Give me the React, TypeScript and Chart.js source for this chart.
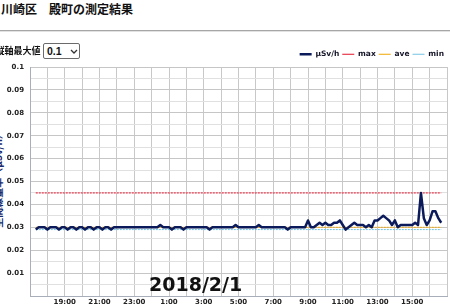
import React, { useEffect, useRef } from 'react';
import { Chart, registerables } from 'chart.js';

Chart.register(...registerables);

// ---- data ----
const TITLE = '川崎区　殿町の測定結果';
const AXIS_MAX_LABEL = '縦軸最大値';
const AXIS_MAX_VALUE = '0.1';
const DATE_LABEL = '2018/2/1';
const Y_TITLE = '空間線量率（μSv/h）';

// x axis: hours counted from 17:00 (0) to 17:00 next day (24)
const hourLabels = [
  '17:00', '18:00', '19:00', '20:00', '21:00', '22:00', '23:00', '0:00', '1:00', '2:00',
  '3:00', '4:00', '5:00', '6:00', '7:00', '8:00', '9:00', '10:00', '11:00', '12:00',
  '13:00', '14:00', '15:00', '16:00', '17:00',
];
const firstSampleHour = 1 / 3; // 17:20
const sampleStepHour = 1 / 6; // every 10 minutes

// μSv/h, 10‑minute values from 17:20 to 16:40
const doseRate = [
  0.029, 0.030, 0.030, 0.030, 0.029, 0.030,
  0.030, 0.030, 0.029, 0.030, 0.030, 0.029,
  0.030, 0.030, 0.029, 0.030, 0.030, 0.029,
  0.030, 0.030, 0.029, 0.030, 0.030, 0.029,
  0.030, 0.030, 0.029, 0.030, 0.030, 0.030,
  0.030, 0.030, 0.030, 0.030, 0.030, 0.030,
  0.030, 0.030, 0.030, 0.030, 0.030, 0.030,
  0.030, 0.031, 0.030, 0.030, 0.030, 0.029,
  0.030, 0.030, 0.030, 0.029, 0.030, 0.030,
  0.030, 0.030, 0.030, 0.030, 0.030, 0.030,
  0.029, 0.030, 0.030, 0.030, 0.030, 0.030,
  0.030, 0.030, 0.030, 0.031, 0.030, 0.030,
  0.030, 0.030, 0.030, 0.030, 0.030, 0.031,
  0.030, 0.030, 0.030, 0.030, 0.030, 0.030,
  0.030, 0.030, 0.030, 0.029, 0.030, 0.030,
  0.030, 0.030, 0.030, 0.030, 0.033, 0.030,
  0.030, 0.031, 0.032, 0.031, 0.032, 0.031,
  0.031, 0.032, 0.032, 0.033, 0.031, 0.029,
  0.030, 0.031, 0.032, 0.031, 0.031, 0.031,
  0.030, 0.031, 0.030, 0.033, 0.033, 0.034,
  0.035, 0.034, 0.033, 0.031, 0.033, 0.030,
  0.031, 0.031, 0.031, 0.031, 0.031, 0.032,
  0.031, 0.045, 0.034, 0.031, 0.033, 0.037,
  0.037, 0.034, 0.032,
];
const maxValue = 0.045;
const aveValue = 0.030;
const minValue = 0.029;

const seriesNames = ['μSv/h', 'max', 'ave', 'min'];
const seriesColors = ['#0b1a5a', '#e3122b', '#f0a500', '#74c3e2'];

const yMax = 0.1;
const yStep = 0.005;

const legendFit = {
  id: 'legendFit',
  beforeInit(chart: any) {
    const lg = chart.legend;
    if (!lg) return;
    const orig = lg.fit;
    lg.fit = function () {
      orig.call(this);
      this.height = 19.5;
    };
  },
};

function ChartBox() {
  const ref = useRef<HTMLCanvasElement | null>(null);
  useEffect(() => {
    if (!ref.current) return;
    const hourAt = (i: number) => firstSampleHour + i * sampleStepHour;
    const pts = doseRate.map((v, i) => ({ x: hourAt(i), y: v }));
    const x0 = hourAt(0);
    const x1 = hourAt(doseRate.length - 1);
    const flat = (v: number) => [{ x: x0, y: v }, { x: x1, y: v }];
    const tickFont = { family: 'DejaVu Sans', size: 7, weight: 'bold' as const };

    const chart = new Chart(ref.current, {
      type: 'line',
      data: {
        datasets: [
          { label: seriesNames[0], data: pts, borderColor: seriesColors[0], backgroundColor: seriesColors[0], borderWidth: 2.5, pointRadius: 0, tension: 0, borderJoinStyle: 'round' },
          { label: seriesNames[1], data: flat(maxValue), borderColor: seriesColors[1], backgroundColor: seriesColors[1], borderWidth: 1, borderDash: [2, 1], pointRadius: 0 },
          { label: seriesNames[2], data: flat(aveValue), borderColor: seriesColors[2], backgroundColor: seriesColors[2], borderWidth: 1, borderDash: [2, 1], pointRadius: 0 },
          { label: seriesNames[3], data: flat(minValue), borderColor: seriesColors[3], backgroundColor: seriesColors[3], borderWidth: 1, borderDash: [2, 1], pointRadius: 0 },
        ],
      },
      options: {
        responsive: false,
        animation: false,
        layout: { padding: { top: 5.5, right: 3, left: 0, bottom: 0 } },
        plugins: {
          tooltip: { enabled: false },
          legend: {
            position: 'top',
            align: 'end',
            labels: {
              usePointStyle: true,
              pointStyle: 'line',
              pointStyleWidth: 12,
              boxWidth: 12,
              padding: 3,
              color: '#141428',
              font: { family: 'DejaVu Sans', size: 7.5, weight: 'bold' },
            },
          },
        },
        scales: {
          x: {
            type: 'linear',
            min: 0,
            max: 24,
            afterFit: (s: any) => { s.height = 12; },
            ticks: {
              stepSize: 1,
              autoSkip: false,
              maxRotation: 0,
              padding: 2,
              color: '#222',
              font: tickFont,
              callback: (value: any) => {
                const v = Math.round(Number(value));
                return v % 2 === 0 && v > 0 && v < 24 ? hourLabels[v] : '';
              },
            },
            grid: { color: '#c8c8c8', drawTicks: false, lineWidth: 1 },
            border: { color: '#a9aebb', width: 1 },
          },
          y: {
            min: 0,
            max: yMax,
            afterFit: (s: any) => { s.width = 30; },
            ticks: {
              stepSize: yStep,
              autoSkip: false,
              padding: 6,
              color: '#222',
              font: tickFont,
              callback: (value: any) => {
                const k = Math.round(Number(value) * 1000);
                if (k === 0 || k % 10 !== 0) return '';
                return String(k / 1000);
              },
            },
            grid: {
              drawTicks: false,
              lineWidth: 1,
              color: (ctx: any) => {
                const k = Math.round(Number(ctx.tick && ctx.tick.value) * 1000);
                return k % 10 === 0 ? '#c6c6c6' : '#e0e0e0';
              },
            },
            border: { color: '#a9aebb', width: 1 },
          },
        },
      },
      plugins: [legendFit],
    } as any);
    return () => chart.destroy();
  }, []);
  return (
    <canvas
      ref={ref}
      width={450}
      height={266}
      style={{ position: 'absolute', left: 0, top: 42, width: 450, height: 266, zIndex: 1 }}
    />
  );
}

export default function App() {
  return (
    <div
      style={{
        position: 'fixed', left: 0, top: 0, width: 450, height: 308,
        overflow: 'hidden', background: '#fff',
      }}
    >
      <div
        style={{
          position: 'absolute', left: 1, top: 3, fontFamily: '"Noto Sans CJK JP"',
          fontSize: 12, lineHeight: '12px', fontWeight: 700, color: '#111', whiteSpace: 'nowrap',
        }}
      >
        {TITLE}
      </div>
      <div style={{ position: 'absolute', left: 0, top: 30, width: 450, height: 0, borderTop: '1px solid #a6a6a6', borderBottom: '1px solid #e2e2e2' }} />
      <div
        style={{
          position: 'absolute', left: -4.5, top: 46, fontFamily: '"Noto Sans CJK JP"',
          fontSize: 9, lineHeight: '9px', fontWeight: 700, color: '#111', whiteSpace: 'nowrap', zIndex: 2,
        }}
      >
        {AXIS_MAX_LABEL}
      </div>
      <div
        style={{
          position: 'absolute', left: 43, top: 43, width: 37, height: 16, boxSizing: 'border-box',
          border: '1px solid #6b6b6b', borderRadius: 2, background: '#fff', zIndex: 2,
        }}
      >
        <span
          style={{
            position: 'absolute', left: 3, top: 2, fontFamily: '"Liberation Sans"', fontSize: 10.5,
            lineHeight: '11px', fontWeight: 700, color: '#111',
          }}
        >
          {AXIS_MAX_VALUE}
        </span>
        <svg width="8" height="6" style={{ position: 'absolute', left: 26, top: 5 }}>
          <polyline points="1,1 4,4 7,1" fill="none" stroke="#333" strokeWidth="1.3" />
        </svg>
      </div>
      <div
        style={{
          position: 'absolute', left: -150, top: 0, width: 150, height: 11, textAlign: 'center',
          transform: 'translate(72.5px, 173px) rotate(-90deg)', transformOrigin: '75px 5.5px',
          fontFamily: '"Noto Sans CJK JP"',
          fontSize: 10, lineHeight: '11px', fontWeight: 700, color: '#1a2a6c', whiteSpace: 'nowrap', zIndex: 0,
        }}
      >
        {Y_TITLE}
      </div>
      <ChartBox />
      <div
        style={{
          position: 'absolute', left: 149, top: 275, fontFamily: '"DejaVu Sans"', fontSize: 19,
          lineHeight: '19px', fontWeight: 700, color: '#111', whiteSpace: 'nowrap', zIndex: 3,
        }}
      >
        {DATE_LABEL}
      </div>
    </div>
  );
}
